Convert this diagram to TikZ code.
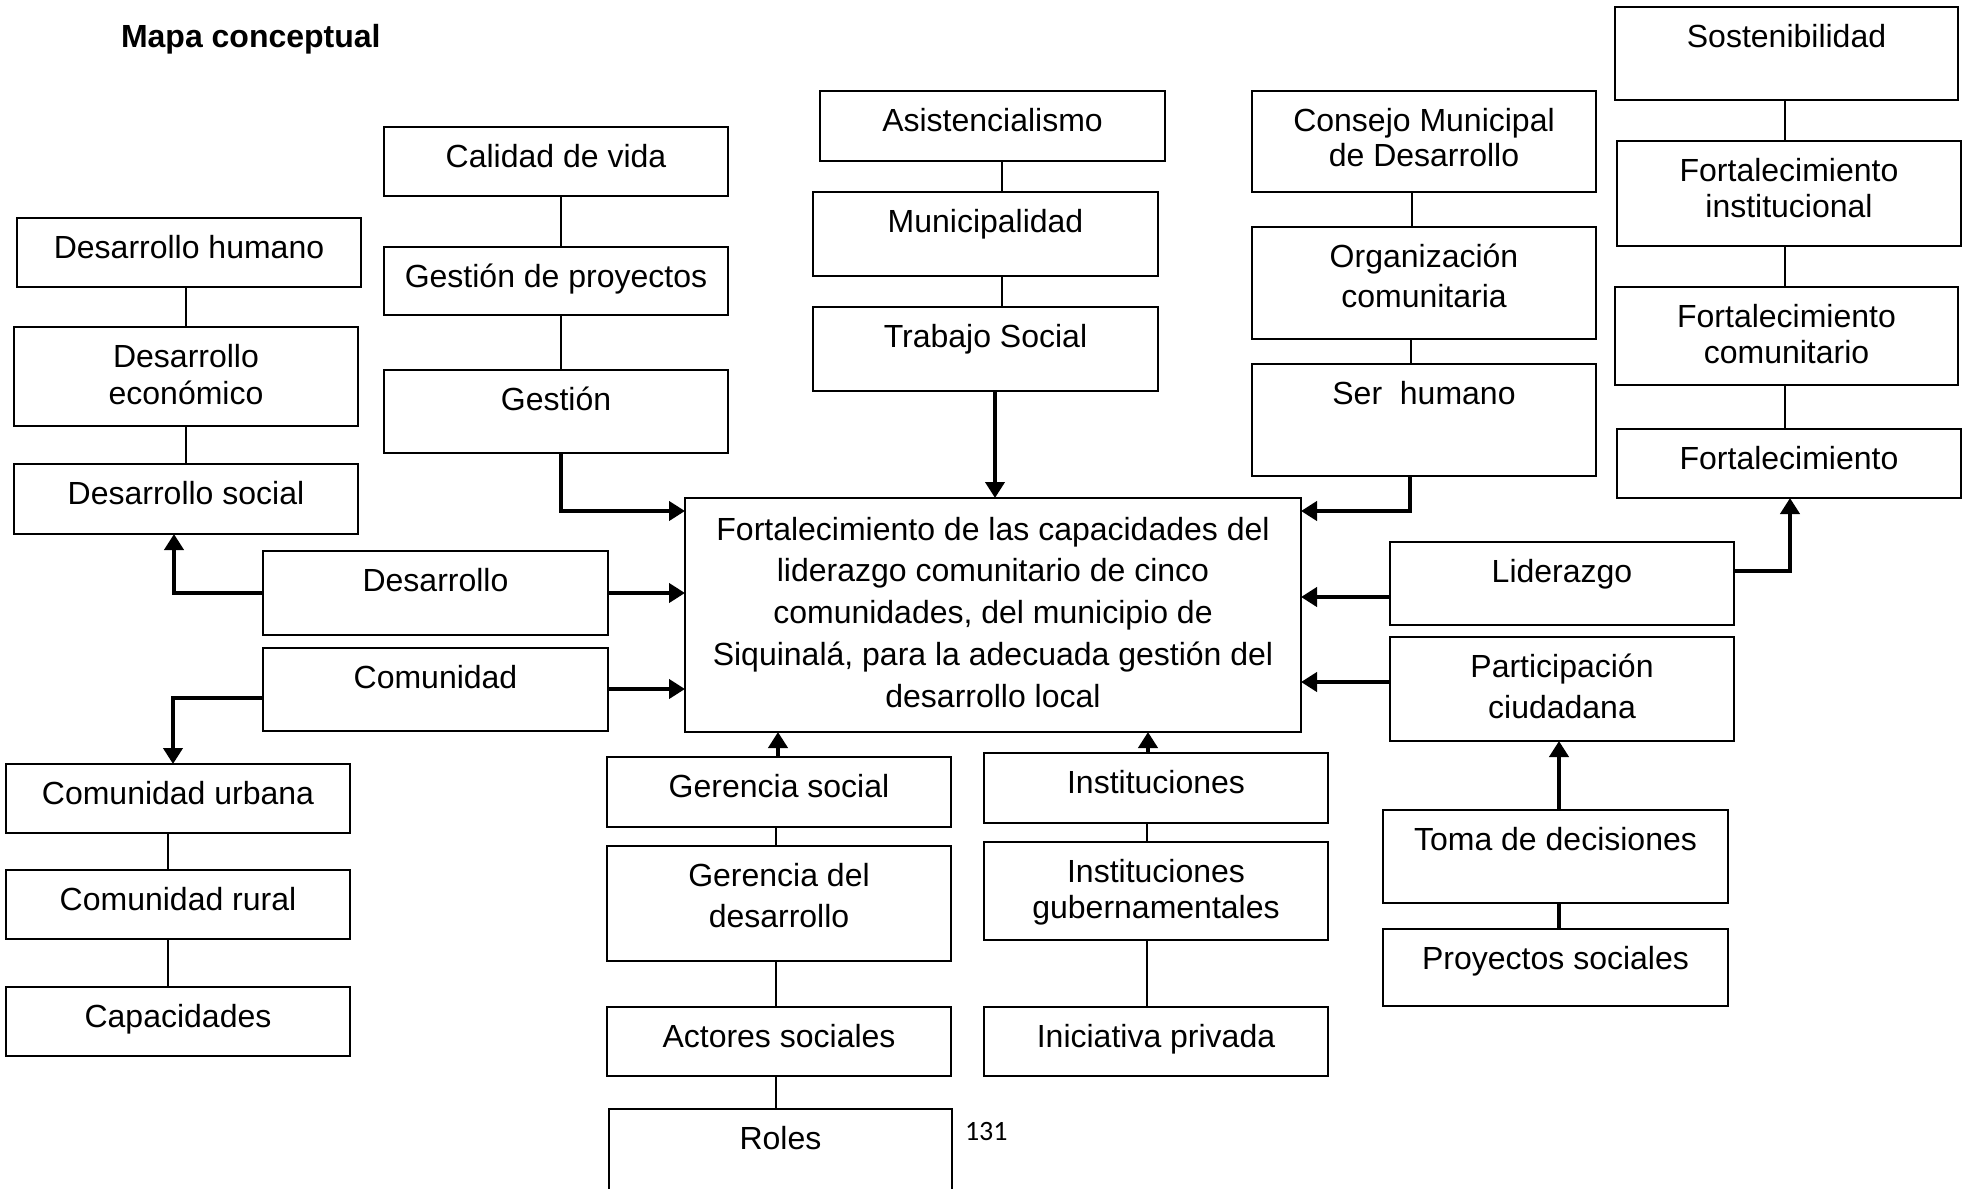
\documentclass[tikz,border=0pt]{standalone}
\usepackage{fontspec}
\setmainfont{Liberation Sans}
\newfontfamily\calfont{Carlito}
\usetikzlibrary{arrows.meta}
\tikzset{
  box/.style={draw, line width=2pt, rectangle, inner sep=0pt, outer sep=0pt},
  txt/.style={inner sep=0pt, outer sep=0pt},
  arr/.style={line width=4pt, -{Triangle[length=16pt,width=19pt]}},
  link/.style={line width=1.8pt},
  thicklink/.style={line width=4pt}
}
\newcommand\bx[7]{%
  \node[box, minimum width={#4-#2}, minimum height={#5-#3}, anchor=north west] (#1) at (#2,#3) {};
  \node[txt, anchor=base] (#1-t) at ([yshift=-40pt]#1.north) {\fontsize{32}{#6}\selectfont\begin{tabular}[t]{@{}c@{}}#7\end{tabular}};}
\begin{document}
\begin{tikzpicture}[x=1pt,y=-1pt]
\useasboundingbox (0,0) rectangle (1971,1189);
\node[txt, anchor=base west, font=\fontsize{32}{38}\selectfont\bfseries] (title) at (121,47) {Mapa conceptual};
% left column
\bx{dh}{17}{218}{361}{287}{38}{Desarrollo humano}
\bx{de}{14}{327}{358}{426}{37.6}{Desarrollo\\económico}
\bx{ds}{14}{464}{358}{534}{38}{Desarrollo social}
\bx{des}{263}{551}{608}{635}{38}{Desarrollo}
\bx{com}{263}{648}{608}{731}{38}{Comunidad}
\bx{cu}{6}{764}{350}{833}{38}{Comunidad urbana}
\bx{cr}{6}{870}{350}{939}{38}{Comunidad rural}
\bx{cap}{6}{987}{350}{1056}{38}{Capacidades}
% second column
\bx{cal}{384}{127}{728}{196}{38}{Calidad de vida}
\bx{gdp}{384}{247}{728}{315}{38}{Gestión de proyectos}
\bx{gest}{384}{370}{728}{453}{38}{Gestión}
% middle top
\bx{asis}{820}{91}{1165}{161}{38}{Asistencialismo}
\bx{mun}{813}{192}{1158}{276}{38}{Municipalidad}
\bx{ts}{813}{307}{1158}{391}{38}{Trabajo Social}
% right middle
\bx{cons}{1252}{91}{1596}{192}{35.7}{Consejo Municipal\\de Desarrollo}
\bx{org}{1252}{227}{1596}{339}{40.6}{Organización\\comunitaria}
\bx{ser}{1252}{364}{1596}{476}{38}{Ser\ \ humano}
% far right
\bx{sost}{1615}{7}{1958}{100}{38}{Sostenibilidad}
\bx{fi}{1617}{141}{1961}{246}{36.7}{Fortalecimiento\\institucional}
\bx{fc}{1615}{287}{1958}{385}{36.7}{Fortalecimiento\\comunitario}
\bx{fort}{1617}{429}{1961}{498}{38}{Fortalecimiento}
\bx{lid}{1390}{542}{1734}{625}{38}{Liderazgo}
\bx{part}{1390}{637}{1734}{741}{41.3}{Participación\\ciudadana}
\bx{toma}{1383}{810}{1728}{903}{38}{Toma de decisiones}
\bx{proy}{1383}{929}{1728}{1006}{38}{Proyectos sociales}
% centre
\node[box, minimum width=616, minimum height=234, anchor=north west] (cen) at (685,498) {};
\node[txt, anchor=base] (cen-t) at ([yshift=-42pt]cen.north) {\fontsize{32}{41.75}\selectfont\begin{tabular}[t]{@{}c@{}}Fortalecimiento de las capacidades del\\liderazgo comunitario de cinco\\comunidades, del municipio de\\Siquinalá, para la adecuada gestión del\\desarrollo local\end{tabular}};
% bottom columns
\bx{gs}{607}{757}{951}{827}{38}{Gerencia social}
\bx{gd}{607}{846}{951}{961}{41}{Gerencia del\\desarrollo}
\bx{as}{607}{1007}{951}{1076}{38}{Actores sociales}
\bx{roles}{609}{1109}{952}{1195}{38}{Roles}
\bx{inst}{984}{753}{1328}{823}{38}{Instituciones}
\bx{ig}{984}{842}{1328}{940}{36.8}{Instituciones\\gubernamentales}
\bx{ip}{984}{1007}{1328}{1076}{38}{Iniciativa privada}
\node[txt, anchor=base west, font=\calfont\fontsize{28}{34}\selectfont] (page) at (965,1140) {131};
% plain links
\draw[link] (dh.south -| 186,0) -- (de.north -| 186,0);
\draw[link] (de.south -| 186,0) -- (ds.north -| 186,0);
\draw[link] (cal.south -| 561,0) -- (gdp.north -| 561,0);
\draw[link] (gdp.south -| 561,0) -- (gest.north -| 561,0);
\draw[link] (asis.south -| 1002,0) -- (mun.north -| 1002,0);
\draw[link] (mun.south -| 1002,0) -- (ts.north -| 1002,0);
\draw[link] (cons.south -| 1412,0) -- (org.north -| 1412,0);
\draw[link] (org.south -| 1411,0) -- (ser.north -| 1411,0);
\draw[link] (sost.south -| 1785,0) -- (fi.north -| 1785,0);
\draw[link] (fi.south -| 1785,0) -- (fc.north -| 1785,0);
\draw[link] (fc.south -| 1785,0) -- (fort.north -| 1785,0);
\draw[link] (cu.south -| 168,0) -- (cr.north -| 168,0);
\draw[link] (cr.south -| 168,0) -- (cap.north -| 168,0);
\draw[link] (gs.south -| 776,0) -- (gd.north -| 776,0);
\draw[link] (gd.south -| 776,0) -- (as.north -| 776,0);
\draw[link] (as.south -| 776,0) -- (roles.north -| 776,0);
\draw[link] (inst.south -| 1147,0) -- (ig.north -| 1147,0);
\draw[link] (ig.south -| 1147,0) -- (ip.north -| 1147,0);
\draw[thicklink] (toma.south -| 1559,0) -- (proy.north -| 1559,0);
% arrows
\draw[arr] (gest.south -| 561,0) |- (cen.west |- 0,511);
\draw[arr] (des.east |- 0,593) -- (cen.west |- 0,593);
\draw[arr] (com.east |- 0,689) -- (cen.west |- 0,689);
\draw[arr] (des.west |- 0,593) -| (ds.south -| 174,0);
\draw[arr] (com.west |- 0,698) -| (cu.north -| 173,0);
\draw[arr] (ts.south -| 995,0) -- (cen.north -| 995,0);
\draw[arr] (ser.south -| 1410,0) |- (cen.east |- 0,511);
\draw[arr] (lid.west |- 0,597) -- (cen.east |- 0,597);
\draw[arr] (part.west |- 0,682) -- (cen.east |- 0,682);
\draw[arr] (lid.east |- 0,571) -| (fort.south -| 1790,0);
\draw[arr] (toma.north -| 1559,0) -- (part.south -| 1559,0);
\draw[arr] (gs.north -| 778,0) -- (cen.south -| 778,0);
\draw[arr] (inst.north -| 1148,0) -- (cen.south -| 1148,0);
\end{tikzpicture}
\end{document}
